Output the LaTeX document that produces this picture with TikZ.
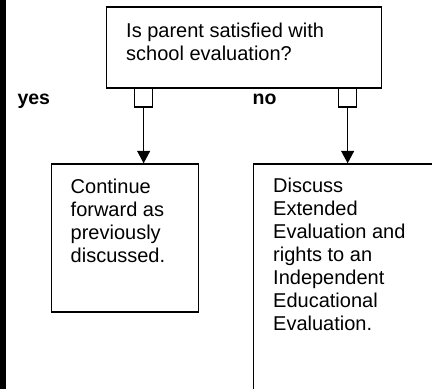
\documentclass[tikz,border=0pt]{standalone}
\usepackage{fontspec}
\setmainfont{Liberation Sans}
\usetikzlibrary{arrows.meta}
\begin{document}
\begin{tikzpicture}[x=1pt,y=-1pt,
  boxst/.style={draw=black,line width=1.6pt,rectangle,inner sep=0pt,anchor=north west},
  portst/.style={draw=black,line width=1.3pt,rectangle,inner sep=0pt,minimum width=18pt,minimum height=19pt,anchor=north west},
  txt/.style={anchor=base west,inner sep=0pt,align=left,font=\fontsize{20}{23}\selectfont},
  lbl/.style={anchor=base west,inner sep=0pt,font=\fontsize{19.5}{23}\selectfont\bfseries},
  conn/.style={draw=black,line width=1.3pt,-{Triangle[length=12.5pt,width=13pt]}}]
\useasboundingbox (0,0) rectangle (432,389);
\fill[black] (0,0) rectangle (5.7,389);
% boxes
\node[boxst,minimum width=275pt,minimum height=81pt] (top) at (105.7,6) {};
\node[boxst,minimum width=147pt,minimum height=148pt] (lbox) at (50.7,163.3) {};
\node[boxst,minimum width=200pt,minimum height=240pt] (rbox) at (252.5,163.3) {};
% texts (one node per line, baselines 23pt apart)
\node[txt] (ttop1) at (126,37.3) {Is parent satisfied with};
\node[txt] (ttop2) at (126,60.3) {school evaluation?};
\node[txt] (tl1) at (70.5,193.3) {Continue};
\node[txt] (tl2) at (70.5,216.3) {forward as};
\node[txt] (tl3) at (70.5,239.3) {previously};
\node[txt] (tl4) at (70.5,262.3) {discussed.};
\node[txt] (tr1) at (273,192.3) {Discuss};
\node[txt] (tr2) at (273,215.3) {Extended};
\node[txt] (tr3) at (273,238.3) {Evaluation and};
\node[txt] (tr4) at (273,261.3) {rights to an};
\node[txt] (tr5) at (273,284.3) {Independent};
\node[txt] (tr6) at (273,307.3) {Educational};
\node[txt] (tr7) at (273,330.3) {Evaluation.};
% ports
\node[portst] (pl) at (134,87.3) {};
\node[portst] (pr) at (338,87.3) {};
% labels
\node[lbl] (yes) at (17.3,104) {yes};
\node[lbl] (no) at (252.5,104) {no};
% connectors
\draw[conn] (pl.south) -- (pl.south |- lbox.north);
\draw[conn] (pr.south) -- (pr.south |- rbox.north);
\end{tikzpicture}
\end{document}
